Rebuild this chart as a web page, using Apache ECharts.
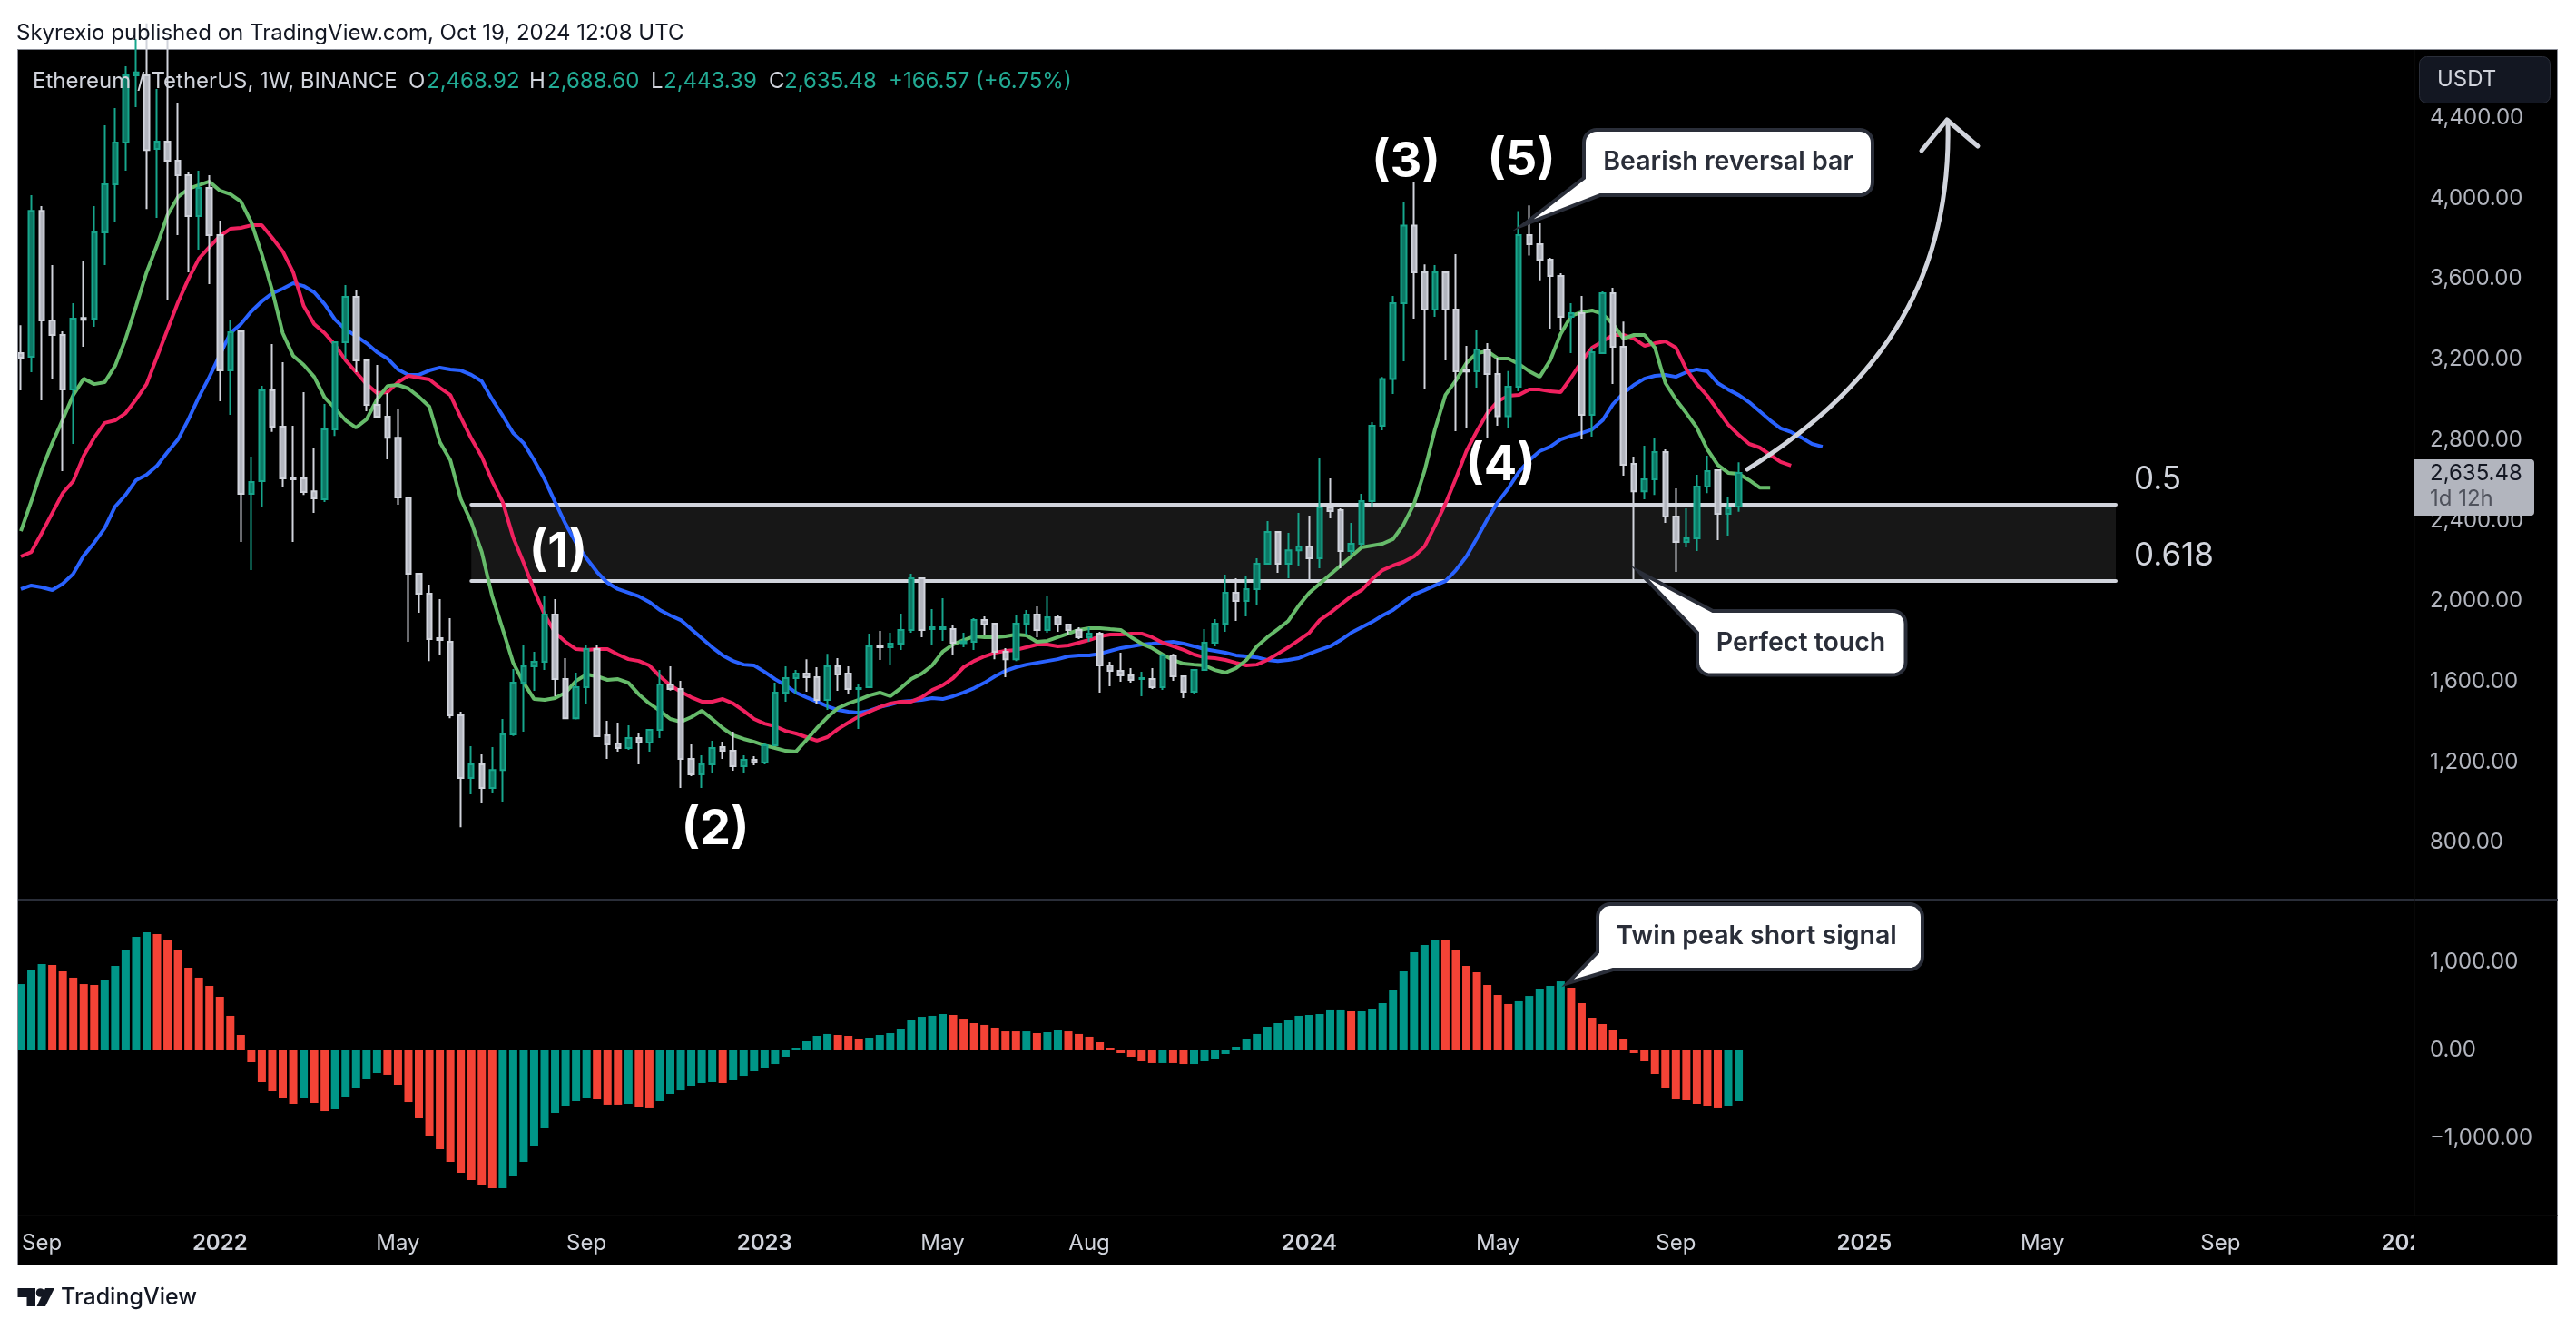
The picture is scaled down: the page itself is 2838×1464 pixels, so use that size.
<!DOCTYPE html>
<html>
<head>
<meta charset="utf-8">
<title>ETHUSDT 1W</title>
<script src="https://cdn.jsdelivr.net/npm/echarts@6/dist/echarts.min.js"></script>
<style>
html, body { margin: 0; padding: 0; background: #fff; }
#main { width: 2838px; height: 1464px; }
</style>
</head>
<body>
<div id="main"></div>
<script>
// weekly candles
const opens = [
3231,3213,3938,3393,3321,3050,3406,3402,3830,4069,
4277,4610,4610,4245,4281,4186,4114,3911,4051,3817,
3145,3339,2532,2595,3046,2866,2613,2609,2545,2505,
2852,3285,3510,3195,2974,2915,2811,2514,2135,2036,
1815,1797,1432,1121,1189,1071,1161,1337,1594,1675,
1698,1932,1612,1418,1572,1761,1333,1292,1270,1319,
1297,1360,1585,1563,1216,1139,1189,1274,1256,1180,
1211,1198,1283,1545,1617,1639,1621,1509,1675,1639,
1563,1572,1779,1770,1788,1856,2113,1860,1860,1860,
1790,1797,1905,1887,1748,1711,1887,1932,1856,1919,
1883,1856,1820,1838,1680,1653,1630,1612,1612,1572,
1730,1626,1549,1657,1793,1887,2041,2000,2059,2185,
2343,2185,2252,2270,2212,2464,2451,2248,2284,2496,
2870,3102,3479,3864,3632,3447,3632,3447,3150,3141,
3249,3127,2917,3064,3817,3772,3695,3614,3411,3429,
2924,3231,3528,3262,2681,2545,2604,2739,2419,2293,
2311,2568,2649,2433,2468.92];
const closes = [
3208,3938,3393,3321,3050,3402,3397,3830,4069,4277,
4610,4625,4240,4281,4186,4114,3911,4051,3817,3145,
3334,2532,2591,3046,2866,2609,2604,2541,2509,2852,
3285,3510,3195,2974,2915,2811,2514,2135,2036,1811,
1806,1432,1121,1189,1071,1161,1337,1594,1675,1698,
1932,1612,1418,1572,1761,1328,1288,1270,1319,1297,
1360,1585,1563,1216,1139,1189,1270,1256,1180,1211,
1198,1283,1545,1617,1639,1621,1509,1675,1635,1563,
1567,1775,1770,1788,1856,2113,1856,1869,1869,1793,
1800,1905,1883,1748,1711,1887,1932,1856,1919,1883,
1856,1820,1838,1680,1653,1630,1608,1617,1572,1730,
1626,1549,1657,1793,1887,2041,2000,2059,2185,2343,
2185,2252,2270,2212,2464,2446,2248,2284,2496,2870,
3102,3479,3864,3632,3447,3632,3447,3141,3140,3249,
3127,2917,3064,3817,3772,3695,3614,3411,3429,2924,
3235,3528,3262,2676,2545,2604,2739,2419,2293,2311,
2568,2645,2433,2460,2635.48];
const lows = [
3046,3136,2996,3100,2645,2780,3262,3361,3668,3880,
4137,4452,3947,3902,3492,3817,3632,3745,3573,2992,
2924,2293,2153,2469,2840,2568,2293,2527,2437,2491,
2820,3204,3136,2942,2911,2703,2478,1797,1941,1702,
1734,1418,877,1040,995,1044,1004,1330,1351,1554,
1657,1527,1415,1412,1486,1324,1216,1252,1261,1189,
1252,1319,1555,1071,1130,1071,1148,1216,1157,1148,
1184,1189,1280,1500,1540,1549,1486,1459,1554,1540,
1364,1567,1707,1680,1757,1842,1820,1779,1802,1734,
1770,1757,1833,1711,1621,1702,1829,1820,1842,1847,
1829,1811,1797,1545,1576,1599,1594,1527,1563,1558,
1603,1518,1536,1653,1775,1847,1901,1923,1982,2180,
2140,2113,2171,2108,2162,2410,2162,2230,2270,2464,
2848,3028,3190,3402,3055,3411,3195,2843,2857,3059,
2811,2870,2857,3041,3715,3593,3352,3348,3231,2802,
2816,3226,3077,2622,2108,2505,2527,2388,2144,2266,
2248,2536,2302,2325,2443.39];
const highs = [
3370,4015,3961,3668,3339,3479,3686,3961,4362,4448,
4655,4790,4868,4543,4800,4475,4132,4137,4114,3889,
3397,3348,2717,3068,3276,3186,2870,3037,2762,2978,
3289,3569,3546,3199,3172,3032,2956,2518,2135,2081,
2009,1914,1450,1279,1238,1274,1414,1662,1779,1748,
2023,2009,1716,1644,1784,1779,1405,1396,1382,1342,
1364,1657,1675,1603,1288,1234,1306,1301,1351,1234,
1229,1297,1594,1675,1657,1711,1671,1738,1716,1675,
1590,1838,1851,1842,1937,2135,2117,1959,2014,1883,
1842,1914,1923,1892,1766,1932,1955,1973,2023,1932,
1887,1869,1869,1847,1698,1743,1666,1648,1666,1738,
1738,1630,1662,1860,1910,2131,2113,2126,2212,2397,
2343,2338,2437,2424,2712,2609,2460,2388,2532,2888,
3113,3515,3983,4083,3672,3668,3641,3722,3267,3348,
3280,3208,3142,3936,3965,3875,3704,3627,3479,3515,
3258,3537,3555,3388,2717,2771,2811,2753,2559,2460,
2627,2721,2653,2514,2688.60];

// alligator lines, they run a few weeks past the last candle
const lips = [
2347,2496,2654,2784,2902,3023,3104,3077,3086,3168,
3303,3465,3632,3767,3916,4006,4047,4065,4083,4038,
4020,3984,3880,3722,3542,3330,3217,3172,3113,3010,
2956,2897,2861,2902,3001,3068,3073,3055,3014,2965,
2789,2699,2505,2392,2243,2023,1860,1693,1594,1513,
1509,1518,1545,1603,1635,1626,1608,1612,1594,1536,
1491,1455,1414,1400,1423,1455,1414,1369,1333,1315,
1301,1283,1270,1256,1252,1310,1369,1423,1468,1491,
1509,1531,1545,1527,1567,1612,1639,1680,1748,1784,
1806,1824,1820,1820,1824,1833,1829,1797,1802,1820,
1838,1856,1865,1865,1860,1856,1820,1788,1766,1734,
1707,1689,1684,1680,1657,1644,1666,1707,1775,1820,
1860,1901,1977,2041,2086,2131,2176,2221,2266,2275,
2284,2307,2379,2482,2645,2852,3023,3095,3181,3231,
3240,3204,3204,3177,3141,3113,3195,3325,3416,3434,
3443,3425,3375,3303,3321,3321,3258,3082,3001,2933,
2861,2753,2676,2636,2631,2600,2563,2563];
const teeth = [
2221,2243,2338,2437,2536,2595,2721,2811,2884,2897,
2933,3001,3077,3213,3348,3483,3600,3700,3758,3812,
3848,3853,3866,3866,3803,3736,3632,3465,3375,3330,
3271,3195,3136,3077,3032,3037,3086,3118,3109,3100,
3059,3023,2911,2807,2717,2595,2491,2316,2189,2054,
1932,1842,1797,1761,1757,1761,1761,1734,1711,1702,
1680,1626,1581,1549,1522,1500,1500,1513,1491,1455,
1414,1391,1378,1355,1342,1324,1306,1324,1364,1396,
1427,1450,1473,1491,1500,1500,1522,1558,1581,1617,
1671,1702,1725,1743,1752,1757,1770,1784,1784,1775,
1779,1793,1806,1824,1833,1833,1838,1838,1820,1793,
1775,1757,1734,1720,1716,1707,1693,1680,1684,1707,
1738,1770,1806,1842,1905,1941,1982,2023,2054,2108,
2153,2176,2194,2221,2270,2374,2482,2609,2744,2843,
2933,2992,3019,3023,3050,3050,3041,3037,3109,3190,
3258,3289,3321,3321,3303,3267,3280,3289,3258,3150,
3077,3019,2947,2875,2825,2780,2762,2726,2690,2672];
const jaw = [
2059,2077,2068,2054,2086,2135,2225,2289,2361,2469,
2527,2600,2627,2672,2739,2802,2902,3014,3113,3222,
3330,3375,3438,3488,3528,3551,3578,3564,3533,3474,
3397,3348,3316,3280,3235,3204,3150,3123,3123,3145,
3159,3150,3145,3123,3091,3001,2920,2834,2784,2699,
2604,2491,2383,2289,2212,2144,2090,2059,2041,2023,
1995,1955,1928,1905,1860,1815,1770,1730,1702,1684,
1680,1648,1612,1581,1545,1522,1500,1477,1459,1450,
1445,1455,1473,1486,1500,1504,1509,1518,1513,1527,
1545,1567,1594,1626,1653,1671,1684,1693,1702,1711,
1725,1730,1730,1738,1752,1766,1775,1784,1788,1793,
1797,1788,1775,1761,1752,1743,1730,1725,1720,1707,
1702,1707,1716,1738,1757,1775,1806,1842,1869,1896,
1928,1955,1995,2032,2054,2077,2099,2153,2221,2311,
2406,2491,2559,2640,2699,2744,2766,2802,2820,2834,
2852,2897,2978,3032,3073,3104,3118,3123,3113,3136,
3150,3141,3082,3050,3023,2987,2942,2897,2857,2839,
2811,2780,2766];

// awesome oscillator bars, G = teal, R = red
const aoValues = [
752,917,979,969,897,825,752,742,794,959,
1134,1289,1340,1319,1247,1144,938,825,732,608,
392,175,-134,-361,-464,-546,-608,-546,-598,-691,
-670,-526,-423,-330,-258,-278,-392,-588,-773,-969,
-1124,-1268,-1392,-1474,-1526,-1567,-1567,-1423,-1268,-1082,
-886,-711,-629,-577,-536,-557,-618,-618,-608,-639,
-649,-577,-495,-454,-402,-371,-361,-371,-340,-289,
-237,-206,-155,-72,21,103,165,186,175,165,
134,144,175,196,247,340,381,392,412,402,
350,309,289,258,216,216,216,196,206,227,
216,186,155,93,31,-31,-72,-124,-144,-144,
-144,-155,-155,-124,-103,-41,41,124,186,268,
309,340,392,402,412,454,454,443,443,474,
536,680,897,1113,1196,1258,1247,1134,959,886,
742,629,526,557,618,691,732,783,711,536,
371,299,227,134,-31,-124,-268,-433,-557,-567,
-608,-629,-649,-629,-577];
const aoColors = (
  'GGGRRRRRGG' + 'GGGRRRRRRR' + 'RRRRRRRGRR' + 'GGGGGRRRRR' +
  'RRRRRRGGGG' + 'GGGGGRRRGR' + 'RGGGGGGRGG' + 'GGGGGGGGRR' +
  'RGGGGGGGGR' + 'RRRRRRGRGG' + 'RRRRRRRRRG' + 'RRGGGGGGGG' +
  'GGGGGGGRGG' + 'GGGGGGRRRR' + 'RRRGGGGGRR' + 'RRRRRRRRRR' + 'RRRGG').split('');

const priceTicks = [800, 1200, 1600, 2000, 2400, 2800, 3200, 3600, 4000, 4400];
const aoTicks = [-1000, 0, 1000];
const tickDates = ['2021-09-06','2022-01-03','2022-05-02','2022-09-05','2023-01-02','2023-05-01','2023-08-07',
  '2024-01-01','2024-05-06','2024-09-02','2025-01-06','2025-05-05','2025-09-01','2026-01-05'];
const tickNames = ['Sep','2022','May','Sep','2023','May','Aug','2024','May','Sep','2025','May','Sep','2026'];

// fib band
const fibUpper = 2478;
const fibLower = 2099;

// weekly categories, first candle is 2021-08-23, 229 slots fit the pane
const categories = [];
for (let i = 0; i < 229; i++) {
    categories.push(new Date(Date.UTC(2021, 7, 23 + i * 7)).toISOString().slice(0, 10));
}
const bandFrom = categories[43];
const bandTo = categories[200];

const UI_FONT = 'Inter';
const GREY = '#d1d4dc';
const TEAL_TEXT = '#22ab94';

function fmt(v) {
    const s = Math.abs(v).toLocaleString('en-US', { minimumFractionDigits: 2, maximumFractionDigits: 2 });
    return (v < 0 ? '\u2212' : '') + s;
}

// plain text helper for the overlay
function txt(text, x, y, font, fill, align) {
    return {
        type: 'text', x: x, y: y, z: 100, silent: true,
        style: { text: text, font: font, fill: fill, textAlign: align || 'left', textVerticalAlign: 'middle' }
    };
}

// quarter circle as points, the graphic component has no svg path
function arc(cx, cy, r, from) {
    const pts = [];
    for (let k = 0; k <= 8; k++) {
        const a = (from + k * 90 / 8) * Math.PI / 180;
        pts.push([cx + r * Math.cos(a), cy + r * Math.sin(a)]);
    }
    return pts;
}

// rounded box with a tail, tail replaces the bottom left or the top left corner
function callout(L, T, R, B, tail, corner) {
    const r = 14;
    let pts = arc(R - r, T + r, r, -90).concat(arc(R - r, B - r, r, 0));
    if (corner === 'bottomLeft') {
        pts = pts.concat(tail, arc(L + r, T + r, r, 180));
    } else {
        pts = pts.concat(arc(L + r, B - r, r, 90), tail);
    }
    return {
        type: 'polygon', z: 99, silent: true,
        shape: { points: pts },
        style: { fill: '#fff', stroke: '#2a2e39', lineWidth: 4, lineJoin: 'miter' }
    };
}

const myChart = echarts.init(document.getElementById('main'));

const lastClose = closes[closes.length - 1];

const option = {
    animation: false,
    backgroundColor: '#fff',
    textStyle: { fontFamily: UI_FONT },
    grid: [
        { left: 17.23, width: 2642.66, top: 54, height: 937 },
        { left: 17.23, width: 2642.66, top: 991, height: 348 }
    ],
    xAxis: [
        {
            type: 'category', gridIndex: 0, data: categories, boundaryGap: true,
            axisLine: { show: false }, axisTick: { show: false }, axisLabel: { show: false }, splitLine: { show: false }
        },
        {
            type: 'category', gridIndex: 1, data: categories, boundaryGap: true,
            axisLine: { show: false }, axisTick: { show: false }, splitLine: { show: false },
            axisLabel: {
                margin: 19,
                interval: function (idx, val) { return tickDates.indexOf(val) >= 0; },
                formatter: function (val) {
                    const name = tickNames[tickDates.indexOf(val)];
                    return /^\d{4}$/.test(name) ? '{year|' + name + '}' : '{mon|' + name + '}';
                },
                rich: {
                    year: { fontFamily: UI_FONT, fontSize: 24, fontWeight: 600, color: GREY },
                    mon: { fontFamily: UI_FONT, fontSize: 24, color: GREY }
                }
            }
        }
    ],
    yAxis: [
        {
            type: 'value', gridIndex: 0, position: 'right', min: 517, max: 4741,
            axisLine: { show: false }, axisTick: { show: false }, splitLine: { show: false },
            axisLabel: {
                customValues: priceTicks, margin: 17, align: 'left', padding: [6, 0, 0, 0],
                color: '#b2b5be', fontFamily: UI_FONT, fontSize: 24, formatter: fmt
            }
        },
        {
            type: 'value', gridIndex: 1, position: 'right', min: -1876, max: 1711,
            axisLine: { show: false }, axisTick: { show: false }, splitLine: { show: false },
            axisLabel: {
                customValues: aoTicks, margin: 17, align: 'left', padding: [6, 0, 0, 0],
                color: '#b2b5be', fontFamily: UI_FONT, fontSize: 24, formatter: fmt
            }
        }
    ],
    series: [
        {
            name: 'Jaw', type: 'line', data: jaw, xAxisIndex: 0, yAxisIndex: 0, z: 3,
            symbol: 'none', lineStyle: { color: '#2962ff', width: 4 }
        },
        {
            name: 'Teeth', type: 'line', data: teeth, xAxisIndex: 0, yAxisIndex: 0, z: 3,
            symbol: 'none', lineStyle: { color: '#f0215f', width: 4 }
        },
        {
            name: 'Lips', type: 'line', data: lips, xAxisIndex: 0, yAxisIndex: 0, z: 3,
            symbol: 'none', lineStyle: { color: '#66bb6a', width: 4 }
        },
        {
            name: 'ETHUSDT', type: 'candlestick', xAxisIndex: 0, yAxisIndex: 0, z: 4, clip: true,
            barWidth: 6,
            data: opens.map(function (o, i) { return [o, closes[i], lows[i], highs[i]]; }),
            itemStyle: {
                color: '#0c7865', color0: '#b2b5be',
                borderColor: '#17a68c', borderColor0: GREY, borderWidth: 2
            },
            markArea: {
                silent: true, z: 1,
                itemStyle: { color: 'rgba(255,255,255,0.09)' },
                data: [[{ xAxis: bandFrom, yAxis: fibUpper }, { xAxis: bandTo, yAxis: fibLower }]]
            },
            markLine: {
                silent: true, z: 2, symbol: 'none', label: { show: false },
                lineStyle: { color: GREY, width: 4, type: 'solid', cap: 'round' },
                data: [
                    [{ xAxis: bandFrom, yAxis: fibUpper }, { xAxis: bandTo, yAxis: fibUpper }],
                    [{ xAxis: bandFrom, yAxis: fibLower }, { xAxis: bandTo, yAxis: fibLower }]
                ]
            }
        },
        {
            name: 'AO', type: 'bar', xAxisIndex: 1, yAxisIndex: 1, barWidth: 9,
            data: aoValues.map(function (v, i) {
                return { value: v, itemStyle: { color: aoColors[i] === 'G' ? '#009688' : '#f44336' } };
            })
        }
    ],
    graphic: [
        // black panel
        { type: 'rect', z: -1, silent: true, shape: { x: 19.5, y: 54.5, width: 2798, height: 1339 }, style: { fill: '#000', stroke: '#8a8d97', lineWidth: 1 } },
        // keep the first bar inside the panel
        { type: 'rect', z: 90, silent: true, shape: { x: 0, y: 54, width: 19, height: 1340 }, style: { fill: '#fff' } },
        { type: 'line', z: 91, silent: true, shape: { x1: 19.5, y1: 54, x2: 19.5, y2: 1394 }, style: { stroke: '#8a8d97', lineWidth: 1 } },
        // pane separator and faint axis separators
        { type: 'line', z: 5, silent: true, shape: { x1: 20, y1: 991, x2: 2818, y2: 991 }, style: { stroke: '#2a2e39', lineWidth: 2 } },
        { type: 'line', z: 5, silent: true, shape: { x1: 2660, y1: 55, x2: 2660, y2: 1393 }, style: { stroke: '#111', lineWidth: 1 } },
        { type: 'line', z: 5, silent: true, shape: { x1: 20, y1: 1339, x2: 2818, y2: 1339 }, style: { stroke: '#111', lineWidth: 1 } },
        // cuts the 2026 label at the price axis
        { type: 'rect', z: 90, silent: true, shape: { x: 2660, y: 1340, width: 157, height: 53 }, style: { fill: '#000' } },

        // header and footer
        txt('Skyrexio published on TradingView.com, Oct 19, 2024 12:08 UTC', 18, 37, '24px ' + UI_FONT, '#131722'),
        txt('TradingView', 67, 1429, '500 25px ' + UI_FONT, '#131722'),
        { type: 'polygon', z: 100, silent: true, shape: { points: [[19.5, 1419], [39, 1419], [39, 1439], [29.5, 1439], [29.5, 1429], [19.5, 1429]] }, style: { fill: '#131722' } },
        { type: 'circle', z: 100, silent: true, shape: { cx: 44.5, cy: 1424, r: 4.8 }, style: { fill: '#131722' } },
        { type: 'polygon', z: 100, silent: true, shape: { points: [[50, 1419], [60, 1419], [50, 1439], [40.5, 1439]] }, style: { fill: '#131722' } },

        // legend row
        txt('Ethereum / TetherUS, 1W, BINANCE', 36, 90, '24px ' + UI_FONT, GREY),
        txt('O', 450, 90, '24px ' + UI_FONT, GREY),
        txt('2,468.92', 470, 90, '24px ' + UI_FONT, TEAL_TEXT),
        txt('H', 583, 90, '24px ' + UI_FONT, GREY),
        txt('2,688.60', 603, 90, '24px ' + UI_FONT, TEAL_TEXT),
        txt('L', 717, 90, '24px ' + UI_FONT, GREY),
        txt('2,443.39', 731, 90, '24px ' + UI_FONT, TEAL_TEXT),
        txt('C', 847, 90, '24px ' + UI_FONT, GREY),
        txt('2,635.48', 864, 90, '24px ' + UI_FONT, TEAL_TEXT),
        txt('+166.57 (+6.75%)', 979, 90, '24px ' + UI_FONT, TEAL_TEXT),

        // USDT button
        { type: 'rect', z: 100, silent: true, shape: { x: 2665.5, y: 62.5, width: 144, height: 51, r: 8 }, style: { fill: '#131722', stroke: '#2a2e39', lineWidth: 1 } },
        txt('USDT', 2685, 88, '24px ' + UI_FONT, GREY),

        // last price tag
        { type: 'rect', z: 100, silent: true, shape: { x: 2660, y: 506, width: 132, height: 62, r: [0, 4, 4, 0] }, style: { fill: '#b2b5be' } },
        txt(fmt(lastClose), 2677, 522, '24px ' + UI_FONT, '#131722'),
        txt('1d 12h', 2677, 550, '24px ' + UI_FONT, '#4f525c'),

        // fib labels
        txt('0.5', 2351, 528, '35px ' + UI_FONT, GREY),
        txt('0.618', 2351, 612, '35px ' + UI_FONT, GREY),

        // wave counts
        txt('(1)', 615, 609, '700 54px ' + UI_FONT, '#fff', 'center'),
        txt('(2)', 788, 914, '700 54px ' + UI_FONT, '#fff', 'center'),
        txt('(3)', 1549, 179, '700 54px ' + UI_FONT, '#fff', 'center'),
        txt('(4)', 1653, 513, '700 54px ' + UI_FONT, '#fff', 'center'),
        txt('(5)', 1676, 177, '700 54px ' + UI_FONT, '#fff', 'center'),

        // callouts
        callout(1745, 143, 2063, 215, [[1763, 215], [1678, 248], [1745, 196]], 'bottomLeft'),
        txt('Bearish reversal bar', 1904, 178, '600 28.5px ' + UI_FONT, '#2a2e39', 'center'),
        callout(1870, 673, 2099.5, 743.5, [[1870, 697], [1806, 630], [1887, 673]], 'topLeft'),
        txt('Perfect touch', 1984, 708, '600 28.5px ' + UI_FONT, '#2a2e39', 'center'),
        callout(1760, 996, 2118, 1068, [[1777, 1068], [1727, 1083], [1760, 1049]], 'bottomLeft'),
        txt('Twin peak short signal', 1935, 1031, '600 28.5px ' + UI_FONT, '#2a2e39', 'center'),

        // forecast arrow
        { type: 'bezierCurve', z: 98, silent: true, shape: { x1: 1925, y1: 517, cpx1: 2080, cpy1: 420, cpx2: 2150, cpy2: 300, x2: 2146, y2: 133 }, style: { stroke: GREY, lineWidth: 5, lineCap: 'round', fill: 'none' } },
        { type: 'polyline', z: 98, silent: true, shape: { points: [[2117, 166], [2145, 132], [2179, 161]] }, style: { stroke: GREY, lineWidth: 5, lineCap: 'round', lineJoin: 'round', fill: 'none' } }
    ]
};

option && myChart.setOption(option);
</script>
</body>
</html>
